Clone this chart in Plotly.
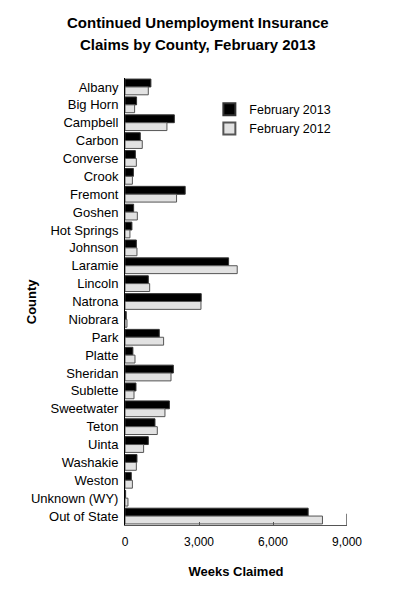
import plotly.graph_objects as go

counties = ["Albany", "Big Horn", "Campbell", "Carbon", "Converse", "Crook", "Fremont",
            "Goshen", "Hot Springs", "Johnson", "Laramie", "Lincoln", "Natrona", "Niobrara",
            "Park", "Platte", "Sheridan", "Sublette", "Sweetwater", "Teton", "Uinta",
            "Washakie", "Weston", "Unknown (WY)", "Out of State"]
feb2013 = [1050, 470, 2000, 620, 420, 340, 2440, 350, 280, 460, 4200, 945, 3090, 50,
           1390, 320, 1960, 445, 1800, 1215, 945, 485, 255, 25, 7425]
feb2012 = [945, 390, 1700, 700, 460, 300, 2090, 500, 200, 485, 4550, 1000, 3080, 80,
           1565, 405, 1865, 365, 1620, 1310, 755, 460, 300, 120, 8005]
tick_vals = [0, 3000, 6000, 9000]
title_lines = ["Continued Unemployment Insurance", "Claims by County, February 2013"]

FONT = "Liberation Sans"

fig = go.Figure()
fig.add_trace(go.Bar(y=counties, x=feb2013, orientation="h", name="February 2013",
                     marker=dict(color="#000000", line=dict(color="#333333", width=1))))
fig.add_trace(go.Bar(y=counties, x=feb2012, orientation="h", name="February 2012",
                     marker=dict(color="#e2e2e2", line=dict(color="#555555", width=1))))

title_ann = [dict(text="<b>%s</b>" % t, xref="paper", yref="paper", x=0.327, y=yy,
                  xanchor="center", yanchor="middle", showarrow=False,
                  font=dict(family=FONT, size=15, color="#000"))
             for t, yy in zip(title_lines, [1.125, 1.074])]

fig.update_layout(
    width=388, height=589,
    margin=dict(l=117, r=49, t=70, b=72),
    paper_bgcolor="white", plot_bgcolor="white",
    barmode="group", bargap=0.12, bargroupgap=0.0,
    font=dict(family=FONT, size=13, color="#000000"),
    legend=dict(x=0.38, y=0.963, xanchor="left", yanchor="top",
                bgcolor="rgba(0,0,0,0)", font=dict(family=FONT, size=12.5),
                traceorder="normal", itemsizing="constant", tracegroupgap=5),
    showlegend=True,
    annotations=title_ann + [dict(text="<b>County</b>", textangle=-90, xref="paper", yref="paper",
                      x=-0.42, y=0.5, xanchor="center", yanchor="middle", showarrow=False,
                      font=dict(family=FONT, size=13))],
    shapes=[dict(type="line", xref="x", yref="paper", x0=9000, x1=9000, y0=0, y1=0.025,
                 line=dict(color="#555555", width=1.5))],
)
fig.update_xaxes(range=[0, 9000], tickvals=tick_vals, tickformat=",",
                 showline=True, linecolor="#555555", linewidth=1,
                 ticks="inside", ticklen=3, tickcolor="#555555",
                 showgrid=False, zeroline=False, automargin=False,
                 ticklabelstandoff=6,
                 title=dict(text="<b>Weeks Claimed</b>", font=dict(family=FONT, size=13), standoff=18),
                 tickfont=dict(family=FONT, size=12))
fig.update_yaxes(autorange="reversed", showline=True, linecolor="#000", linewidth=1,
                 ticks="", showgrid=False, automargin=False, ticklabelstandoff=3,
                 tickfont=dict(family=FONT, size=13))

fig.write_html("out.html")
